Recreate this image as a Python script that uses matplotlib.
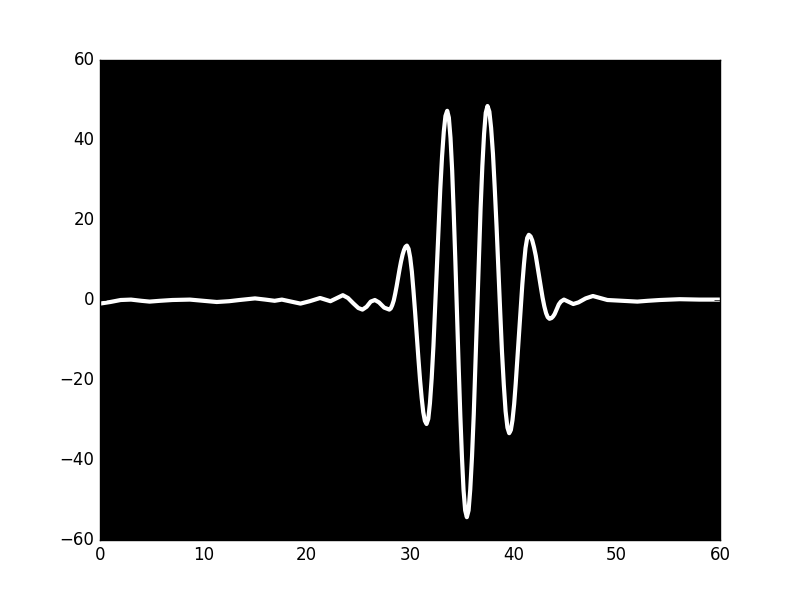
import matplotlib
matplotlib.use("Agg")
import matplotlib.pyplot as plt

# values, by eye
x_left = [0.0, 1.0, 2.0, 3.0, 4.0, 4.8, 5.8, 7.0, 8.7, 10.0, 11.3, 12.5, 13.5,
          15.0, 16.0, 16.9, 17.6, 19.4, 20.3, 21.3, 22.3, 23.5, 24.0, 24.5,
          25.0, 25.4, 25.8, 26.2, 26.6, 27.0, 27.5]
y_left = [-0.9, -0.5, 0.0, 0.1, -0.2, -0.4, -0.2, 0.0, 0.1, -0.2, -0.5, -0.3,
          0.0, 0.4, 0.1, -0.2, 0.1, -0.9, -0.3, 0.5, -0.3, 1.2, 0.5, -0.8,
          -2.0, -2.4, -1.7, -0.4, 0.0, -0.6, -1.9]

# the wave packet, read point by point
x_core = [28.0, 28.14, 28.28, 28.43, 28.57, 28.71, 28.85, 28.99, 29.13, 29.28,
          29.42, 29.56, 29.7,
          29.86, 30.02, 30.18, 30.33, 30.49, 30.65, 30.81, 30.97, 31.13,
          31.28, 31.44, 31.6,
          31.77, 31.93, 32.1, 32.27, 32.43, 32.6, 32.77, 32.93, 33.1,
          33.27, 33.43, 33.6,
          33.76, 33.92, 34.08, 34.23, 34.39, 34.55, 34.71, 34.87, 35.03,
          35.18, 35.34, 35.5,
          35.67, 35.83, 36.0, 36.17, 36.33, 36.5, 36.67, 36.83, 37.0,
          37.17, 37.33, 37.5,
          37.68, 37.85, 38.03, 38.2, 38.38, 38.55, 38.73, 38.9, 39.08,
          39.25, 39.43, 39.6,
          39.76, 39.92, 40.08, 40.23, 40.39, 40.55, 40.71, 40.87, 41.03,
          41.18, 41.34, 41.5,
          41.67, 41.83, 42.0, 42.17, 42.33, 42.5, 42.67, 42.83, 43.0,
          43.17, 43.33, 43.5,
          43.7, 43.85, 44.0, 44.2, 44.4, 44.6, 44.9]
y_core = [-2.4, -2.1, -1.3, -0.1, 1.6, 3.5, 5.6, 7.7, 9.6, 11.3,
          12.5, 13.3, 13.6,
          12.8, 10.6, 7.1, 2.5, -2.9, -8.7, -14.5, -19.9, -24.5,
          -28.0, -30.2, -31.0,
          -29.7, -25.8, -19.5, -11.4, -2.0, 8.2, 18.3, 27.7, 35.8,
          42.1, 46.0, 47.3,
          45.6, 40.5, 32.4, 21.9, 9.7, -3.5, -16.7, -28.9, -39.4,
          -47.5, -52.6, -54.3,
          -52.6, -47.4, -39.2, -28.6, -16.2, -2.9, 10.4, 22.8, 33.4,
          41.6, 46.8, 48.5,
          47.1, 43.0, 36.5, 28.0, 18.2, 7.6, -3.0, -12.9, -21.3,
          -27.8, -31.9, -33.3,
          -32.5, -30.0, -26.0, -20.9, -14.9, -8.5, -2.1, 3.9, 9.0,
          13.0, 15.5, 16.3,
          15.9, 14.9, 13.2, 11.1, 8.5, 5.8, 3.1, 0.6, -1.6,
          -3.3, -4.3, -4.7,
          -4.5, -4.1, -3.5, -2.3, -1.1, -0.4, 0.1]

x_right = [45.3, 45.8, 46.3, 47.0, 47.7, 48.4, 49.1, 50.5, 52.0, 53.0, 54.2,
           56.1, 58.0, 60.0]
y_right = [-0.4, -1.0, -0.6, 0.4, 1.0, 0.5, 0.0, -0.2, -0.4, -0.2, 0.0,
           0.2, 0.1, 0.1]

x = x_left + x_core + x_right
y = y_left + y_core + y_right

plt.style.use("classic")
fig = plt.figure(figsize=(8, 6), dpi=100, facecolor="white")
ax = fig.add_subplot(111)
ax.set_facecolor("black")
ax.plot(x, y, color="white", linewidth=3)
ax.set_xlim(0, 60)
ax.set_ylim(-60, 60)
fig.savefig("out.png", dpi=100, facecolor="white")
